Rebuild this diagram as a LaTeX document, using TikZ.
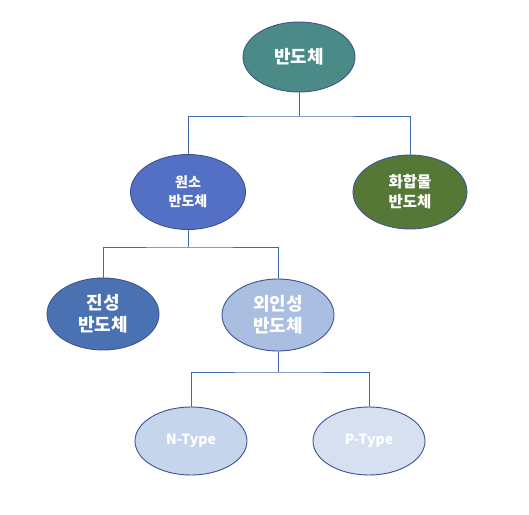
\documentclass[tikz,border=0pt]{standalone}
\usepackage{fontspec}
\setmainfont{Noto Sans CJK KR}
\usetikzlibrary{shapes.geometric}
\definecolor{cTop}{RGB}{74,139,135}
\definecolor{cWon}{RGB}{84,112,196}
\definecolor{cHwa}{RGB}{86,120,54}
\definecolor{cJin}{RGB}{74,114,178}
\definecolor{cOe}{RGB}{169,190,224}
\definecolor{cN}{RGB}{197,213,236}
\definecolor{cP}{RGB}{214,224,241}
\definecolor{cEdge}{RGB}{62,84,146}
\definecolor{cLine}{RGB}{68,104,176}
\tikzset{
  ell/.style={ellipse, draw=cEdge, line width=0.9pt, inner sep=0pt,
    minimum width=112pt, minimum height=72pt, text=white, align=center},
  conn/.style={draw=cLine, line width=0.9pt}
}
\begin{document}
\begin{tikzpicture}[x=1pt,y=-1pt]
\useasboundingbox[fill=white] (0,0) rectangle (529,514);
\node[ell, fill=cTop, minimum height=70pt, font=\fontsize{18}{21}\selectfont\bfseries] (top) at (299,57) {반도체};
\node[ell, fill=cWon, minimum width=115pt, minimum height=75pt, font=\fontsize{14}{19}\selectfont\bfseries] (won) at (188,192) {원소\\반도체};
\node[ell, fill=cHwa, minimum width=114pt, minimum height=74pt, font=\fontsize{15.5}{20}\selectfont\bfseries] (hwa) at (410,192) {화합물\\반도체};
\node[ell, fill=cJin, font=\fontsize{18}{22}\selectfont\bfseries] (jin) at (103,314) {진성\\반도체};
\node[ell, fill=cOe, font=\fontsize{18}{22}\selectfont\bfseries] (oe) at (278,315) {외인성\\반도체};
\node[ell, fill=cN, minimum height=68pt, font=\fontsize{14}{16}\selectfont\bfseries] (nt) at (191,441) {N-Type};
\node[ell, fill=cP, minimum height=68pt, font=\fontsize{14}{16}\selectfont\bfseries] (pt) at (369,441) {P-Type};
\coordinate (j1) at (top.south |- 0,116);
\coordinate (j2) at (won.south |- 0,247);
\coordinate (j3) at (oe.south |- 0,372);
\draw[conn] (top.south) -- (j1);
\draw[conn] (won.north) |- (j1) -| (hwa.north);
\draw[conn] (won.south) -- (j2);
\draw[conn] (jin.north) |- (j2) -| (oe.north);
\draw[conn] (oe.south) -- (j3);
\draw[conn] (nt.north) |- (j3) -| (pt.north);
\end{tikzpicture}
\end{document}
